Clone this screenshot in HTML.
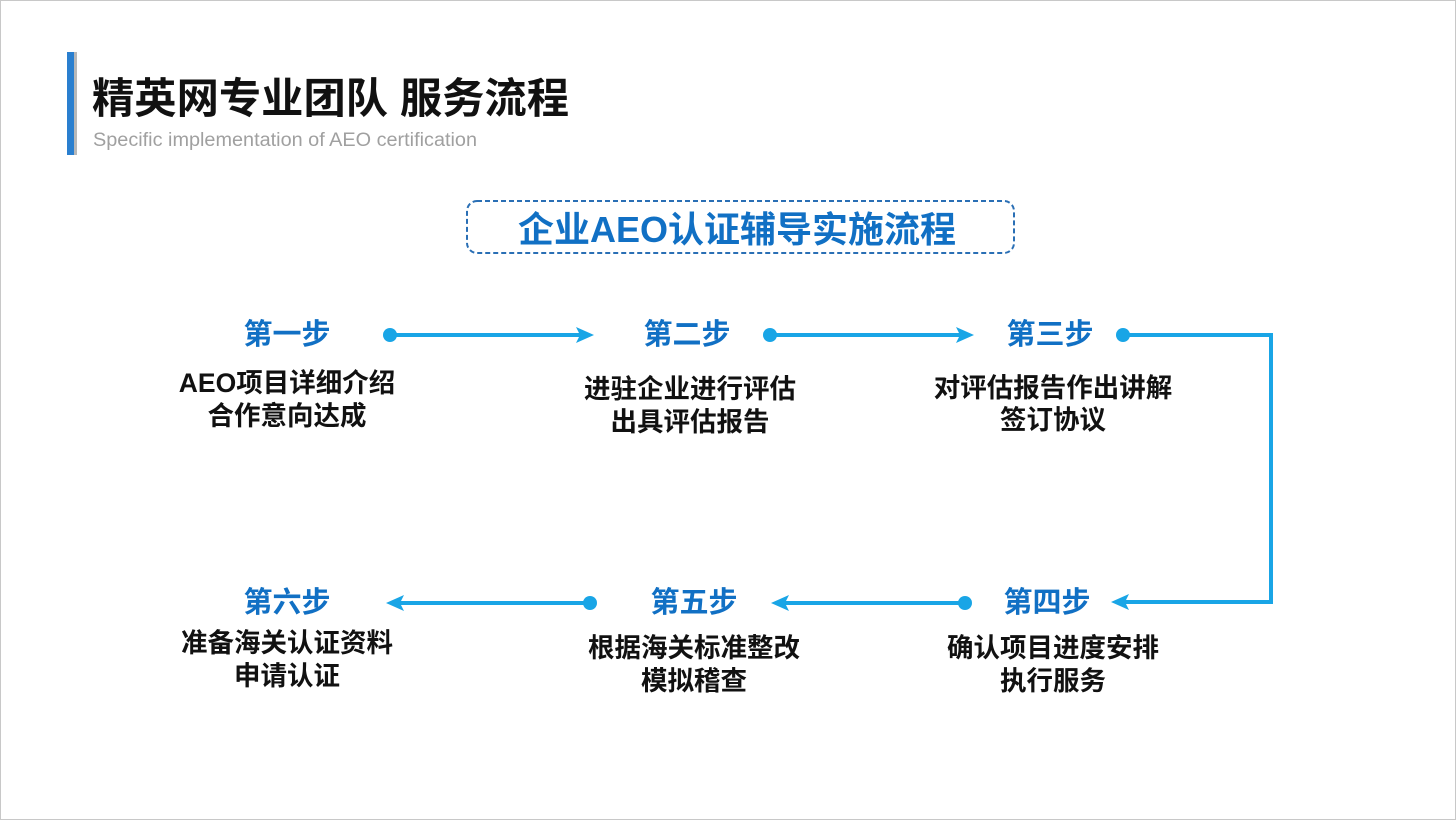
<!DOCTYPE html>
<html><head><meta charset="utf-8"><style>
html,body{margin:0;padding:0;background:#fff}
body{width:1456px;height:820px;overflow:hidden}
text{font-family:"Liberation Sans","Noto Sans CJK SC",sans-serif}
</style></head><body>
<svg width="1456" height="820" viewBox="0 0 1456 820" xmlns="http://www.w3.org/2000/svg">
<rect x="0.5" y="0.5" width="1455" height="819" fill="#fff" stroke="#c8c8c8"/>
<rect x="67" y="52" width="7" height="103" fill="#2a7fcf"/>
<rect x="74" y="52" width="3" height="103" fill="#b8b8b8"/>
<text x="92" y="113" font-size="42" font-weight="bold" fill="#111" textLength="477" lengthAdjust="spacingAndGlyphs">精英网专业团队 服务流程</text>
<text x="93" y="146" font-size="19" fill="#a0a0a0" textLength="384" lengthAdjust="spacingAndGlyphs">Specific implementation of AEO certification</text>
<rect x="467" y="201" width="547" height="52" rx="10" fill="#fff" stroke="#2a6fb5" stroke-width="2" stroke-dasharray="5,3"/>
<text x="737" y="242" font-size="36" font-weight="bold" fill="#1170c4" text-anchor="middle">企业AEO认证辅导实施流程</text>
<g stroke="#19a5e6" stroke-width="4" fill="none">
<line x1="390" y1="335" x2="580" y2="335"/>
<line x1="770" y1="335" x2="960" y2="335"/>
<polyline points="1123,335 1271,335 1271,602 1125,602"/>
<line x1="965" y1="603" x2="785" y2="603"/>
<line x1="590" y1="603" x2="400" y2="603"/>
</g>
<g fill="#19a5e6">
<circle cx="390" cy="335" r="7"/><circle cx="770" cy="335" r="7"/><circle cx="1123" cy="335" r="7"/>
<circle cx="965" cy="603" r="7"/><circle cx="590" cy="603" r="7"/>
<polygon points="594,335 576,327 580,335 576,343"/>
<polygon points="974,335 956,327 960,335 956,343"/>
<polygon points="1111,602 1129,594 1125,602 1129,610"/>
<polygon points="771,603 789,595 785,603 789,611"/>
<polygon points="386,603 404,595 400,603 404,611"/>
</g>
<g font-size="29" font-weight="bold" fill="#1170c4" text-anchor="middle">
<text x="287" y="344">第一步</text>
<text x="687" y="344">第二步</text>
<text x="1050" y="344">第三步</text>
<text x="1047" y="612">第四步</text>
<text x="694" y="612">第五步</text>
<text x="287" y="612">第六步</text>
</g>
<g font-size="26.5" font-weight="bold" fill="#111" text-anchor="middle">
<text x="287" y="392">AEO项目详细介绍</text>
<text x="287" y="425">合作意向达成</text>
<text x="690" y="398">进驻企业进行评估</text>
<text x="690" y="431">出具评估报告</text>
<text x="1053" y="397">对评估报告作出讲解</text>
<text x="1053" y="429">签订协议</text>
<text x="1053" y="657">确认项目进度安排</text>
<text x="1053" y="690">执行服务</text>
<text x="694" y="657">根据海关标准整改</text>
<text x="694" y="690">模拟稽查</text>
<text x="287" y="652">准备海关认证资料</text>
<text x="287" y="685">申请认证</text>
</g>
</svg>
</body></html>
